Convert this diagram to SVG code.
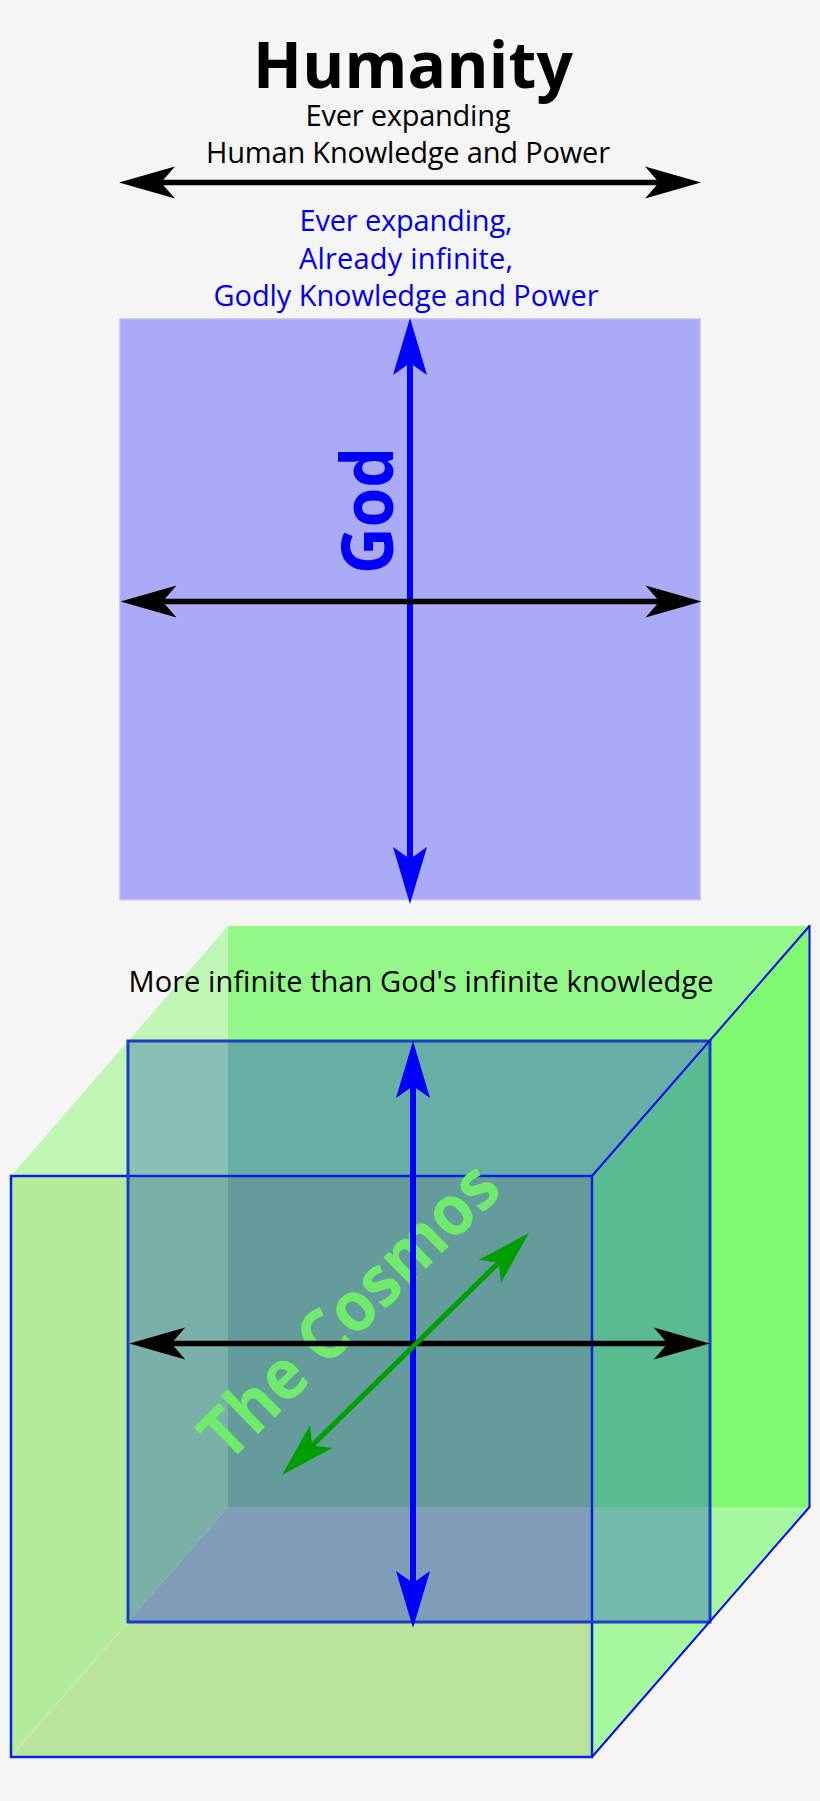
<svg xmlns="http://www.w3.org/2000/svg" width="820" height="1801" viewBox="0 0 820 1801">
  <style>
    .txt { font-family: "Open Sans", "Liberation Sans", sans-serif; }
    .small { font-size: 29px; }
    .bold { font-weight: bold; }
    .black { fill: #000000; }
    .blue { fill: #0000ee; }
    .edge { fill: none; stroke-linejoin: miter; }
  </style>
  <defs>
    <marker id="headBlack" markerUnits="userSpaceOnUse" orient="auto-start-reverse" overflow="visible" refX="0" refY="0" markerWidth="1" markerHeight="1">
      <path d="M40,0 L-16,-16 L-2,0 L-16,16 Z" fill="#000000"/>
    </marker>
    <marker id="headBlue" markerUnits="userSpaceOnUse" orient="auto-start-reverse" overflow="visible" refX="0" refY="0" markerWidth="1" markerHeight="1">
      <path d="M43,0 L-14,-17 L-2,0 L-14,17 Z" fill="#0000ff"/>
    </marker>
    <marker id="headGreen" markerUnits="userSpaceOnUse" orient="auto-start-reverse" overflow="visible" refX="0" refY="0" markerWidth="1" markerHeight="1">
      <path d="M40,0 L-15,-16 L-2,0 L-15,16 Z" fill="#009e00"/>
    </marker>
  </defs>

  <rect id="background" x="0" y="0" width="820" height="1801" fill="#f5f5f5"/>

  <g id="humanity-label">
    <text class="txt bold black" x="413" y="88" font-size="64" text-anchor="middle" textLength="320">Humanity</text>
    <text class="txt small black" x="408" y="126" text-anchor="middle" textLength="205">Ever expanding</text>
    <text class="txt small black" x="408" y="163" text-anchor="middle" textLength="404">Human Knowledge and Power</text>
  </g>

  <g id="god-label">
    <text class="txt small blue" x="406" y="231" text-anchor="middle" textLength="213">Ever expanding,</text>
    <text class="txt small blue" x="406" y="268.5" text-anchor="middle" textLength="214">Already infinite,</text>
    <text class="txt small blue" x="406" y="306" text-anchor="middle" textLength="385">Godly Knowledge and Power</text>
  </g>

  <g id="god-square">
    <rect x="120" y="319" width="580" height="580.5" fill="#aaaaf6" stroke="#bcbcf7" stroke-width="1.5"/>
    <text class="txt bold" transform="translate(393,574) rotate(-90)" font-size="72" fill="#0000ff" textLength="127" lengthAdjust="spacingAndGlyphs">God</text>
  </g>

  <g id="cosmos-cube">
    <polygon points="228,926 228,1176 11,1176" fill="#c0f5b5"/>
    <polygon points="228,926 810,926 592,1176 228,1176" fill="#93f888"/>
    <polygon points="810,926 810,1507 592,1507 592,1176" fill="#80f872"/>
    <polygon points="11,1176 228,1176 228,1507 11,1757" fill="#b3eb9b"/>
    <polygon points="11,1757 228,1507 592,1507 592,1757" fill="#b8e599"/>
    <polygon points="592,1507 810,1507 592,1757" fill="#a6f79e"/>
    <rect x="128" y="1041" width="100" height="135" fill="#8abfb5"/>
    <polygon points="228,1041 710,1041 592,1176 228,1176" fill="#66aea6"/>
    <polygon points="710,1041 710,1507 592,1507 592,1176" fill="#5abb93"/>
    <polygon points="128,1176 228,1176 228,1507 128,1622" fill="#7ab0a8"/>
    <rect x="228" y="1176" width="364" height="331" fill="#639c9a"/>
    <polygon points="228,1507 592,1507 592,1622 128,1622" fill="#7f9db9"/>
    <rect x="592" y="1507" width="118" height="115" fill="#75b9ab"/>
    <line x1="128" y1="1622" x2="11" y2="1757" stroke="#c6edaa" stroke-width="1.2"/>
    <rect class="edge" x="11" y="1176" width="581" height="581" stroke="#0a20e6" stroke-width="2.5"/>
    <rect class="edge" x="128" y="1041" width="582" height="581" stroke="#1a3ec8" stroke-width="3"/>
    <line x1="592" y1="1176" x2="809.5" y2="926" stroke="#0a0af0" stroke-width="2"/>
    <line x1="592" y1="1757" x2="809.5" y2="1507" stroke="#0a0af0" stroke-width="2"/>
    <line x1="809.5" y1="925" x2="809.5" y2="1508" stroke="#0a0af0" stroke-width="2"/>
    <text class="txt small black" x="421" y="991.5" text-anchor="middle" textLength="585">More infinite than God's infinite knowledge</text>
    <text class="txt bold" transform="translate(366,1328) rotate(-44.5)" font-size="70" fill="#6fea6c" text-anchor="middle" textLength="388" lengthAdjust="spacingAndGlyphs">The Cosmos</text>
  </g>

  <g id="connectors">
    <line x1="159" y1="182.5" x2="661" y2="182.5" stroke="#000000" stroke-width="5.5" marker-start="url(#headBlack)" marker-end="url(#headBlack)"/>
    <line x1="410" y1="361" x2="410" y2="861" stroke="#0000ff" stroke-width="6" marker-start="url(#headBlue)" marker-end="url(#headBlue)"/>
    <line x1="160.5" y1="601.5" x2="661.5" y2="601.5" stroke="#000000" stroke-width="5.5" marker-start="url(#headBlack)" marker-end="url(#headBlack)"/>
    <line x1="413" y1="1084" x2="413" y2="1585" stroke="#0000ff" stroke-width="6" marker-start="url(#headBlue)" marker-end="url(#headBlue)"/>
    <line x1="169.3" y1="1343.5" x2="669.7" y2="1343.5" stroke="#000000" stroke-width="5.5" marker-start="url(#headBlack)" marker-end="url(#headBlack)"/>
    <line x1="310.6" y1="1447" x2="500.4" y2="1261" stroke="#009e00" stroke-width="5" marker-start="url(#headGreen)" marker-end="url(#headGreen)"/>
  </g>
</svg>
